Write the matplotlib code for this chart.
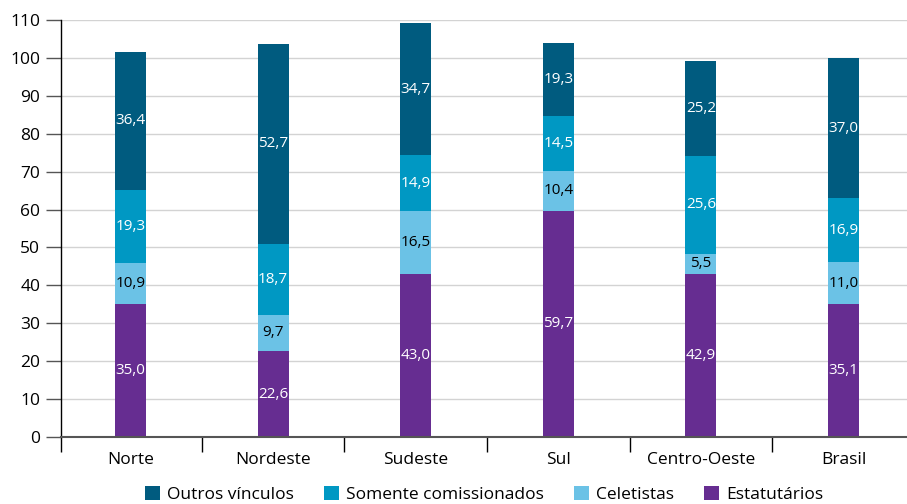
import numpy as np
import matplotlib
matplotlib.use("Agg")
import matplotlib.pyplot as plt

plt.rcParams['font.family'] = ['Open Sans', 'DejaVu Sans']

regioes = ["Norte", "Nordeste", "Sudeste", "Sul", "Centro-Oeste", "Brasil"]

# valores (%) por tipo de vínculo, de baixo para cima
estatutarios = [35.0, 22.6, 43.0, 59.7, 42.9, 35.1]
celetistas = [10.9, 9.7, 16.5, 10.4, 5.5, 11.0]
comissionados = [19.3, 18.7, 14.9, 14.5, 25.6, 16.9]
outros = [36.4, 52.7, 34.7, 19.3, 25.2, 37.0]

series = [
    ("Estatutários", estatutarios, "#662d91", "white"),
    ("Celetistas", celetistas, "#6bc2e6", "black"),
    ("Somente comissionados", comissionados, "#0098c3", "white"),
    ("Outros vínculos", outros, "#005b7f", "white"),
]

fig = plt.figure(figsize=(9.07, 5.04), dpi=100)
ax = fig.add_axes([61/907, 1 - 437/504, 1 - 61/907, (437 - 20)/504])

x = np.arange(len(regioes))
largura = 0.217
base = np.zeros(len(regioes))
handles = {}
for nome, vals, cor, cor_txt in series:
    vals = np.array(vals)
    b = ax.bar(x, vals, largura, bottom=base, color=cor, zorder=3)
    handles[nome] = b
    for xi, v, b0 in zip(x, vals, base):
        ax.text(xi, b0 + v / 2, f"{v:.1f}".replace(".", ","), ha="center", va="center",
                color=cor_txt, fontsize=11, zorder=4)
    base = base + vals

ax.set_ylim(0, 110)
ax.set_xlim(-0.487, 5.445)
ax.set_yticks(range(0, 111, 10))
ax.yaxis.grid(True, color="#d3d3d3", linewidth=1, zorder=0)
ax.tick_params(axis="y", length=11, width=1, color="#555555", labelsize=12.5, pad=4)

ax.set_xticks(x)
ax.set_xticklabels(regioes, fontsize=12.5)
ax.tick_params(axis="x", which="major", length=0, pad=11)
ax.set_xticks([-0.487, 0.5, 1.5, 2.5, 3.5, 4.5], minor=True)
ax.tick_params(axis="x", which="minor", length=11, width=1, color="black")

for s in ["top", "right"]:
    ax.spines[s].set_visible(False)
ax.spines["left"].set_color("black")
ax.spines["left"].set_linewidth(1)
ax.spines["bottom"].set_color("#555555")
ax.spines["bottom"].set_linewidth(1.5)
ax.spines["bottom"].set_zorder(5)

ordem = ["Outros vínculos", "Somente comissionados", "Celetistas", "Estatutários"]
ax.legend([handles[n] for n in ordem], ordem, loc="center", bbox_to_anchor=(0.5, -0.137),
          ncol=4, frameon=False, fontsize=12.5, handlelength=0.9, handleheight=0.9,
          handletextpad=0.4, columnspacing=1.7)

fig.savefig("out.png", dpi=100)
